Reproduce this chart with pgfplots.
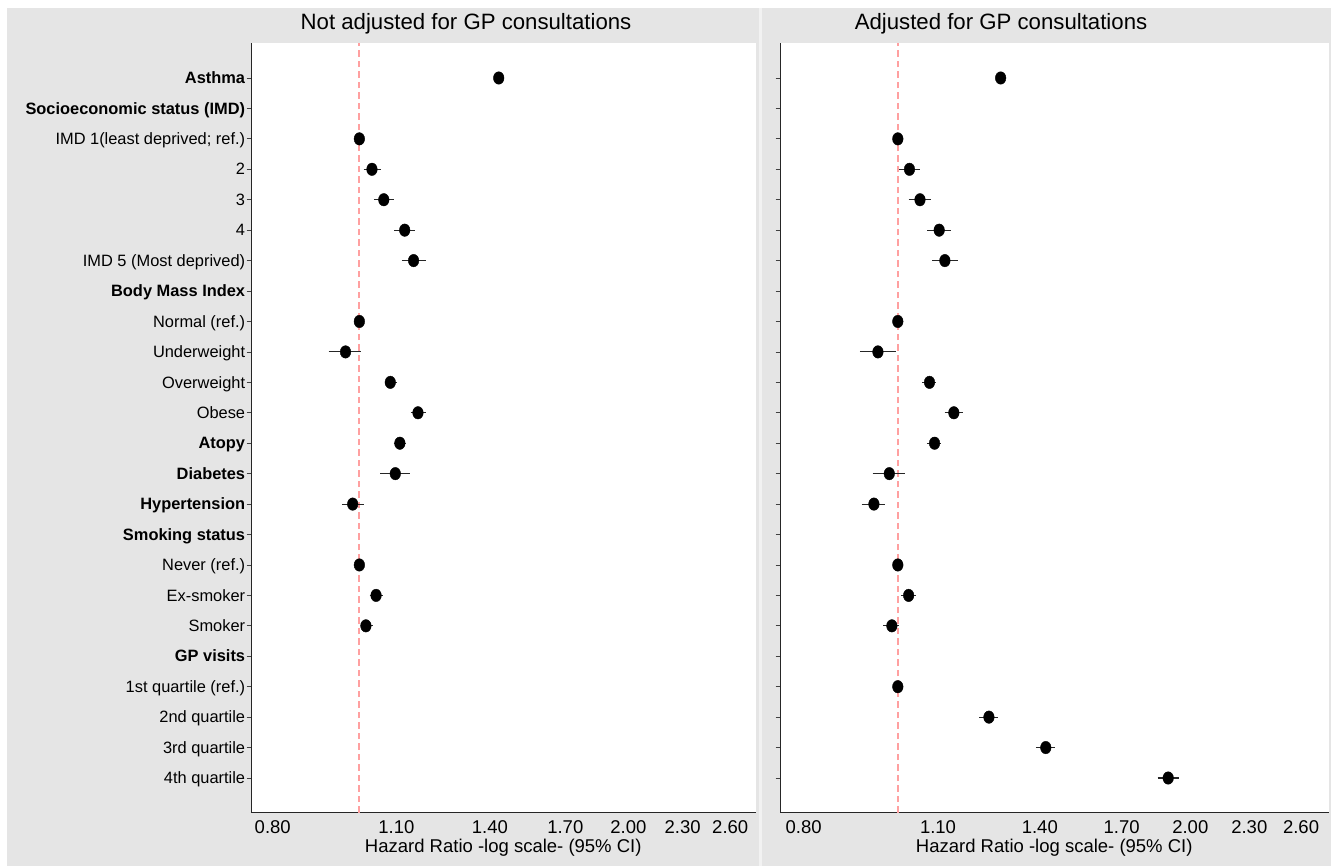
\documentclass[border=0pt]{standalone}
\usepackage{fontspec}
\setmainfont{Liberation Sans}
\usepackage{pgfplots}
\usepackage{pgfplotstable}
\pgfplotsset{compat=1.18}
\definecolor{bg}{RGB}{229,229,229}
\definecolor{sep}{RGB}{242,242,242}
\definecolor{refpink}{RGB}{255,160,160}

% point estimates: row, hazard ratio
\pgfplotstableread{
row hr
24 1.432
22 1.000
21 1.033
20 1.065
19 1.124
18 1.150
16 1.000
15 0.965
14 1.083
13 1.163
12 1.110
11 1.097
10 0.983
8 1.000
7 1.044
6 1.017
}\leftdata

% 95% CI ends, one segment per row, separated by nan
\pgfplotstableread{
x y
1.424 24
1.440 24
nan 24
1.011 21
1.058 21
nan 21
1.038 20
1.093 20
nan 20
1.094 19
1.155 19
nan 19
1.116 18
1.188 18
nan 18
0.924 15
1.005 15
nan 15
1.067 14
1.102 14
nan 14
1.141 13
1.187 13
nan 13
1.092 12
1.128 12
nan 12
1.056 11
1.139 11
nan 11
0.956 10
1.011 10
nan 10
1.027 7
1.062 7
nan 7
1.003 6
1.035 6
}\leftci

\pgfplotstableread{
row hr
24 1.276
22 1.000
21 1.028
20 1.054
19 1.103
18 1.118
16 1.000
15 0.954
14 1.078
13 1.142
12 1.091
11 0.980
10 0.945
8 1.000
7 1.026
6 0.986
4 1.000
3 1.241
2 1.420
1 1.898
}\rightdata

\pgfplotstableread{
x y
1.268 24
1.284 24
nan 24
1.003 21
1.054 21
nan 21
1.026 20
1.081 20
nan 20
1.072 19
1.133 19
nan 19
1.085 18
1.152 18
nan 18
0.914 15
0.995 15
nan 15
1.059 14
1.096 14
nan 14
1.117 13
1.166 13
nan 13
1.071 12
1.107 12
nan 12
0.942 11
1.017 11
nan 11
0.918 10
0.971 10
nan 10
1.007 7
1.045 7
nan 7
0.966 6
1.003 6
nan 6
1.213 3
1.268 3
nan 3
1.387 2
1.451 2
nan 2
1.851 1
1.946 1
}\rightci

\begin{document}
\begin{tikzpicture}
\path (0bp,0bp) rectangle (1335bp,868bp);
\fill[bg] (7bp,2bp) rectangle (1331bp,860bp);
\fill[sep] (759bp,2bp) rectangle (761.7bp,860bp);

\node[anchor=base, font=\fontsize{22.2bp}{24bp}\selectfont] at (466bp,838bp) {Not adjusted for GP consultations};
\node[anchor=base, font=\fontsize{22.2bp}{24bp}\selectfont] at (1001bp,838bp) {Adjusted for GP consultations};

\begin{axis}[
    at={(251bp,55.3bp)}, anchor=south west,
    scale only axis, width=504.5bp, height=769.4bp,
    xmode=log,
    xmin=0.7565, xmax=2.775,
    ymin=-0.14, ymax=25.14,
    xtick={0.8,1.1,1.4,1.7,2.0,2.3,2.6},
    xticklabels={0.80,1.10,1.40,1.70,2.00,2.30,2.60},
    minor xtick={},
    ytick={1,...,24},
    axis x line*=bottom,
    axis y line*=left,
    axis line style={-, black!85, line width=0.9bp},
    tick align=outside,
    major tick length=4.5bp,
    xtick style={draw=none},
    ytick style={black!75, line width=0.8bp},
    xticklabel style={font=\fontsize{18.5bp}{20bp}\selectfont, anchor=base, inner sep=0pt, yshift=-15.8bp},
    axis background/.style={fill=white},
    xlabel={Hazard Ratio -log scale- (95\% CI)},
    xlabel style={font=\fontsize{18.5bp}{20bp}\selectfont, at={(axis description cs:0.5,0)}, anchor=base, inner sep=0pt, yshift=-40.3bp},
    yticklabels={{4th quartile},{3rd quartile},{2nd quartile},{1st quartile (ref.)},{\bfseries GP visits},{Smoker},{Ex-smoker},{Never (ref.)},{\bfseries Smoking status},{\bfseries Hypertension},{\bfseries Diabetes},{\bfseries Atopy},{Obese},{Overweight},{Underweight},{Normal (ref.)},{\bfseries Body Mass Index},{IMD 5 (Most deprived)},{4},{3},{2},{IMD 1(least deprived; ref.)},{\bfseries Socioeconomic status (IMD)},{\bfseries Asthma}},
    yticklabel style={font=\fontsize{16.4bp}{18bp}\selectfont, anchor=base east, inner sep=0pt, xshift=-1.2bp, yshift=-5.7bp},
    unbounded coords=jump,
]
\addplot[draw=refpink, line width=1.8bp, dash pattern=on 6.5bp off 4bp] coordinates {(1,-0.14) (1,25.14)};
\addplot[draw=black!85, line width=1.1bp, mark=none] table[x=x, y=y] {\leftci};
\addplot[only marks, mark=*, mark size=5.3bp, mark options={fill=black, draw=black, yscale=1.18}] table[x=hr, y=row] {\leftdata};
\end{axis}

\begin{axis}[
    at={(780bp,55.3bp)}, anchor=south west,
    scale only axis, width=548.5bp, height=769.4bp,
    xmode=log,
    xmin=0.7565, xmax=2.775,
    ymin=-0.14, ymax=25.14,
    xtick={0.8,1.1,1.4,1.7,2.0,2.3,2.6},
    xticklabels={0.80,1.10,1.40,1.70,2.00,2.30,2.60},
    minor xtick={},
    ytick={1,...,24},
    yticklabels={},
    axis x line*=bottom,
    axis y line*=left,
    axis line style={-, black!85, line width=0.9bp},
    tick align=outside,
    major tick length=4.5bp,
    xtick style={draw=none},
    ytick style={black!75, line width=0.8bp},
    xticklabel style={font=\fontsize{18.5bp}{20bp}\selectfont, anchor=base, inner sep=0pt, yshift=-15.8bp},
    axis background/.style={fill=white},
    xlabel={Hazard Ratio -log scale- (95\% CI)},
    xlabel style={font=\fontsize{18.5bp}{20bp}\selectfont, at={(axis description cs:0.5,0)}, anchor=base, inner sep=0pt, yshift=-40.3bp},
    unbounded coords=jump,
]
\addplot[draw=refpink, line width=1.8bp, dash pattern=on 6.5bp off 4bp] coordinates {(1,-0.14) (1,25.14)};
\addplot[draw=black!85, line width=1.1bp, mark=none] table[x=x, y=y] {\rightci};
\addplot[only marks, mark=*, mark size=5.3bp, mark options={fill=black, draw=black, yscale=1.18}] table[x=hr, y=row] {\rightdata};
\end{axis}
\end{tikzpicture}
\end{document}
